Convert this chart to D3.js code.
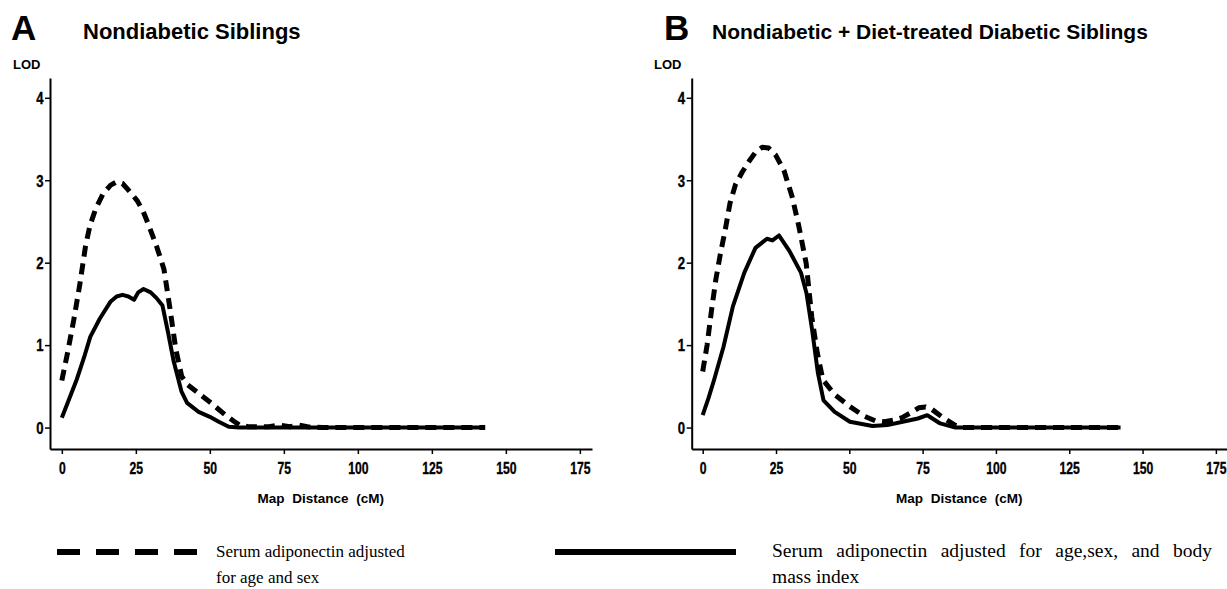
<!DOCTYPE html>
<html>
<head>
<meta charset="utf-8">
<script src="https://cdn.jsdelivr.net/npm/d3@7"></script>
<style>
  html, body { margin: 0; padding: 0; background: #fff; }
  svg { display: block; }
</style>
</head>
<body>
<svg id="chart" width="1227" height="589"></svg>
<script>
// ---------------- DATA ----------------
const xTicks = [0, 25, 50, 75, 100, 125, 150, 175];
const yTicks = [0, 1, 2, 3, 4];

const panelLetters = ["A", "B"];
const panelTitles = ["Nondiabetic Siblings", "Nondiabetic + Diet-treated Diabetic Siblings"];
const yAxisLabel = "LOD";
const xAxisLabel = "Map Distance (cM)";

const seriesNames = [
  ["Serum adiponectin adjusted", "for age and sex"],
  ["Serum adiponectin adjusted for age,sex, and body", "mass index"]
];

// Panel A: [cM, LOD]
const panelA_ageSex = [
  [0,0.57],[2,0.92],[4,1.3],[6,1.72],[8,2.2],[9.5,2.45],[11.5,2.66],[14,2.84],[16.5,2.94],
  [18.5,2.98],[20.5,2.96],[23,2.86],[25.5,2.75],[27.5,2.62],[29.5,2.44],[32,2.2],[34.5,1.92],
  [36.5,1.45],[38.5,0.95],[40.5,0.62],[42.5,0.52],[45,0.45],[50,0.31],[55,0.16],[58,0.08],
  [60,0.03],[63,0.01],[70,0.01],[73.5,0.03],[77,0.01],[80,0.03],[83,0.01],[88,0],[143,0]
];
const panelA_ageSexBMI = [
  [0,0.12],[2.5,0.35],[5,0.58],[7.5,0.85],[9.6,1.1],[12.8,1.32],[16.5,1.53],[18.5,1.59],
  [20.5,1.61],[22.5,1.59],[24.4,1.55],[25.8,1.64],[27.6,1.68],[30,1.64],[32,1.57],[34,1.48],
  [35.9,1.15],[37.8,0.8],[40.4,0.44],[42.3,0.3],[46.2,0.19],[50,0.13],[53,0.07],[56.4,0.01],
  [60,0],[143,0]
];
// Panel B: [cM, LOD]
const panelB_ageSex = [
  [0,0.68],[1.5,1.0],[3,1.42],[4.5,1.8],[6,2.1],[7.8,2.42],[9.3,2.72],[11.2,2.95],[13.5,3.1],
  [15.8,3.23],[18,3.34],[20.3,3.4],[22.5,3.39],[24.8,3.31],[27.7,3.12],[30.5,2.8],[32.8,2.44],
  [35.3,1.99],[37.2,1.34],[39.1,0.9],[41,0.58],[45,0.4],[50,0.26],[55,0.14],[59,0.08],[62,0.07],
  [65,0.09],[68,0.12],[71,0.18],[73.7,0.24],[76,0.25],[78.2,0.22],[82,0.12],[86,0.03],[88.4,0],[143,0]
];
const panelB_ageSexBMI = [
  [0,0.15],[2,0.36],[3.9,0.58],[7.1,0.98],[10.3,1.47],[14.2,1.88],[18,2.18],[21.9,2.29],
  [23.8,2.27],[26,2.33],[29.6,2.14],[33.5,1.88],[35.4,1.63],[37.3,1.19],[39.3,0.66],[41.2,0.33],
  [45,0.19],[50.2,0.07],[57.9,0.02],[63,0.03],[68.2,0.07],[73.4,0.11],[76.6,0.15],[81,0.05],
  [86.2,0],[142.5,0]
];

// ---------------- DRAW ----------------
const svg = d3.select("#chart");
const sans = "'Liberation Sans', Arial, Helvetica, sans-serif";
const serif = "'Liberation Serif', 'Times New Roman', serif";

const panels = [
  { letterX: 11, titleX: 83, titleSize: 22, lodX: 13, xDomain: [-4, 179.1], xRange: [50, 592],
    series: [panelA_ageSex, panelA_ageSexBMI] },
  { letterX: 664, titleX: 712, titleSize: 21, lodX: 654, xDomain: [-3.75, 178.8], xRange: [691.7, 1227],
    series: [panelB_ageSex, panelB_ageSexBMI] }
];

const y = d3.scaleLinear().domain([-0.26, 4.24]).range([449, 78]);

function styleTickText(sel, sx) {
  sel.attr("font-family", sans).attr("font-weight", "bold").attr("font-size", 16)
    .attr("fill", "#000").attr("stroke", "#000").attr("stroke-width", 0.35)
    .attr("transform", `scale(${sx},1)`);
}

panels.forEach((p, i) => {
  const g = svg.append("g");
  const x = d3.scaleLinear().domain(p.xDomain).range(p.xRange);

  g.append("text").attr("x", p.letterX).attr("y", 40)
    .attr("font-family", sans).attr("font-weight", "bold").attr("font-size", 35)
    .text(panelLetters[i]);
  g.append("text").attr("x", p.titleX).attr("y", 39)
    .attr("font-family", sans).attr("font-weight", "bold").attr("font-size", p.titleSize)
    .text(panelTitles[i]);
  g.append("text").attr("x", p.lodX).attr("y", 69)
    .attr("font-family", sans).attr("font-weight", "bold").attr("font-size", 13)
    .text(yAxisLabel);

  // y axis
  const yAxis = g.append("g").attr("transform", `translate(${p.xRange[0]},0)`)
    .call(d3.axisLeft(y).tickValues(yTicks).tickFormat(d3.format("d")).tickSize(5).tickSizeOuter(0).tickPadding(3));
  yAxis.select(".domain").attr("stroke-width", 2);
  yAxis.selectAll(".tick line").attr("stroke-width", 1.5);
  yAxis.selectAll(".tick text").call(styleTickText, 0.82).attr("dy", "0.36em");

  // x axis
  const xAxis = g.append("g").attr("transform", `translate(0,449)`)
    .call(d3.axisBottom(x).tickValues(xTicks).tickFormat(d3.format("d")).tickSize(5).tickSizeOuter(0).tickPadding(9));
  xAxis.select(".domain").attr("stroke-width", 2);
  xAxis.selectAll(".tick line").attr("stroke-width", 1.5);
  xAxis.selectAll(".tick text").call(styleTickText, 0.76);

  g.append("text")
    .attr("x", (x(0) + x(175)) / 2).attr("y", 503)
    .attr("text-anchor", "middle")
    .attr("font-family", sans).attr("font-weight", "bold").attr("font-size", 13.5)
    .attr("word-spacing", 4)
    .text(xAxisLabel);

  const line = d3.line().x(d => x(d[0])).y(d => y(d[1]));

  g.append("path").datum(p.series[0]).attr("d", line)
    .attr("fill", "none").attr("stroke", "#000").attr("stroke-width", 5)
    .attr("stroke-dasharray", "11,7").attr("stroke-linejoin", "round");
  g.append("path").datum(p.series[1]).attr("d", line)
    .attr("fill", "none").attr("stroke", "#000").attr("stroke-width", 4)
    .attr("stroke-linejoin", "round");
});

// legend
const legend = svg.append("g");
legend.append("line").attr("x1", 57).attr("x2", 197).attr("y1", 552).attr("y2", 552)
  .attr("stroke", "#000").attr("stroke-width", 6).attr("stroke-dasharray", "23,16");
legend.append("line").attr("x1", 555).attr("x2", 736).attr("y1", 552).attr("y2", 552)
  .attr("stroke", "#000").attr("stroke-width", 6);

const legendX = [216, 772];
const legendFontSize = [17, 19.5];
const legendFirstLineWidth = [null, 440];   // justified first line of the right legend entry
seriesNames.forEach((lines, i) => {
  lines.forEach((t, j) => {
    const txt = legend.append("text").attr("x", legendX[i]).attr("y", 557 + j * 26)
      .attr("font-family", serif).attr("font-size", legendFontSize[i])
      .text(t);
    if (j === 0 && legendFirstLineWidth[i]) {
      const natural = txt.node().getComputedTextLength();
      const spaces = (t.match(/ /g) || []).length;
      txt.attr("word-spacing", Math.max(0, (legendFirstLineWidth[i] - natural) / spaces));
    }
  });
});
</script>
</body>
</html>
